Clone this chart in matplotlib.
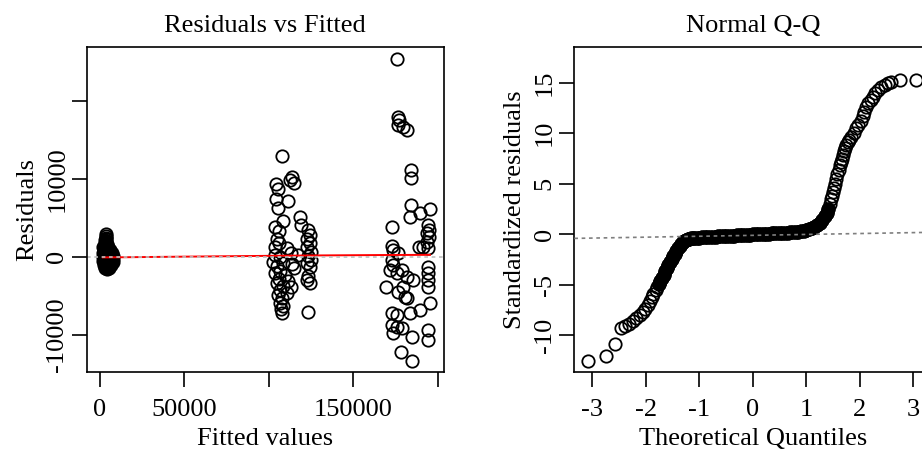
"""
plot.py
=======
Two-panel lm diagnostic figure (Residuals vs Fitted, Normal Q-Q),
redrawn in matplotlib in the look of base R graphics.
"""

import matplotlib
matplotlib.use("Agg")
import matplotlib.pyplot as plt
import numpy as np

# ── Residuals vs Fitted: the dense low-fitted group (overprinted -> solid) ──
BLOB_FIT = [2000, 3000, 4000, 5000, 6000, 7000, 7800, 8000, 7500, 6800,
            5500, 4300, 3200, 2300, 1800, 1700, 1800, 2200, 3500, 4500,
            5500, 3000, 4500, 6000, 2500, 3800, 5200, 6500, 3200, 3800]
BLOB_RES = [1300, 1800, 1600, 1200, 800, 500, 100, -300, -700, -1100,
            -1500, -1600, -1400, -1000, -500, 0, 500, 900, 600, 200,
            -200, -300, -900, -600, 200, 1100, 500, 100, 2100, 1900]

# ── Residuals vs Fitted: all other observations (open circles) ─────────────
FITTED = [3500, 3600, 3400, 3700,
          108000, 113900, 115100, 112600, 104100, 105600, 104100, 111200,
          105300, 108600, 103700, 106000, 104700, 106000, 103700, 110600,
          113100, 103700, 106600, 102700, 108600, 104700, 113500, 115100,
          106600, 103700, 109600, 106000, 111600, 104700, 108600, 113100,
          106600, 110600, 105600, 108000, 106600, 108600, 107200, 108000,
          118500, 119400, 123400, 124400, 122400, 124400, 122400, 125000,
          123000, 125000, 122400, 124400, 123400, 122400, 124400, 123400,
          117500,
          175700, 176700, 177300, 176700, 179700, 181700, 184000, 184200,
          184000, 189600, 195500, 183600, 172800, 194500, 195000, 193800,
          195000, 193800, 194500, 189200, 172800, 173900, 176700, 172800,
          173900, 171800, 175700, 178700, 181700, 185600, 194500, 194500,
          194500, 194500, 169400, 176700, 180700, 182000, 195500, 189600,
          172800, 175700, 183600, 172800, 175700, 178700, 173900, 184600,
          194500, 194500, 178500, 184600, 179700, 191600]
RESID = [2850, 2650, 2450, 2250,
         12900, 10180, 9410, 9830, 9320, 8640, 7360, 7100,
         6200, 4580, 3770, 3330, 2230, 1720, 1200, 1080,
         510, 220, -80, -640, -770, -1190, -940, -1490,
         -1790, -2130, -2350, -2900, -3080, -3410, -3760, -3920,
         -4270, -4620, -4910, -5330, -5900, -6320, -6740, -7180,
         5130, 4060, 3420, 2780, 2230, 1720, 1200, 640,
         90, -420, -850, -1280, -2470, -2990, -3410, -7050,
         220,
         25340, 17950, 17520, 16880, 16670, 16240, 11100, 10100,
         6620, 5560, 6070, 5050, 3770, 4060, 3420, 3000,
         2570, 1920, 1070, 1200, 1370, 860, 430, -420,
         -1060, -1700, -2140, -1700, -2560, -2990, -1280, -2130,
         -2990, -3850, -3920, -4490, -5130, -5330, -5900, -6830,
         -7260, -7470, -7260, -8760, -8970, -9190, -9820, -10260,
         -9400, -10680, -12180, -13330, -3850, 1290]

# lowess smoother (red)
SMOOTH_FIT = [1700, 8000, 104000, 125000, 170000, 195500]
SMOOTH_RES = [-90, -80, 120, 160, 220, 240]

# ── Normal Q-Q: theoretical quantile / standardized residual pairs ─────────
QQ_Q = [-3.09, -2.75, -2.57, -2.46, -2.39, -2.31, -2.25, -2.19, -2.12, -2.06,
        -2.01, -1.97, -1.93, -1.89, -1.86, -1.82, -1.79, -1.76, -1.73, -1.70,
        -1.67, -1.64, -1.61, -1.58, -1.55, -1.52, -1.49, -1.46, -1.43, -1.40,
        -1.37, -1.34, -1.31, -1.28, -1.25, -1.22, -1.19, -1.16, -1.13, -1.10,
        -1.05, -1.00, -0.95, -0.90, -0.85, -0.80, -0.75, -0.70, -0.65, -0.60,
        -0.55, -0.50, -0.45, -0.40, -0.35, -0.30, -0.25, -0.20, -0.15, -0.10,
        -0.05, 0.00, 0.05, 0.10, 0.15, 0.20, 0.25, 0.30, 0.35, 0.40,
        0.45, 0.50, 0.55, 0.60, 0.65, 0.70, 0.75, 0.80, 0.85, 0.90,
        0.95, 1.00, 1.05, 1.10, 1.15, 1.20, 1.25, 1.30, 1.35, 1.38,
        1.41, 1.44, 1.46, 1.48, 1.50, 1.52, 1.54, 1.56, 1.58, 1.60,
        1.62, 1.64, 1.66, 1.68, 1.70, 1.72, 1.74, 1.77, 1.80, 1.84,
        1.88, 1.93, 1.97, 2.02, 2.05, 2.08, 2.12, 2.15, 2.20, 2.24,
        2.29, 2.33, 2.40, 2.46, 2.52, 2.58, 2.75, 3.05]
QQ_R = [-12.5, -12.0, -10.8, -9.3, -9.1, -8.9, -8.6, -8.3, -8.0, -7.7,
        -7.4, -7.0, -6.6, -6.2, -5.9, -5.5, -5.2, -4.9, -4.6, -4.3,
        -4.0, -3.6, -3.3, -3.0, -2.7, -2.4, -2.1, -1.9, -1.6, -1.4,
        -1.15, -0.95, -0.8, -0.65, -0.55, -0.48, -0.43, -0.40, -0.38, -0.36,
        -0.34, -0.32, -0.30, -0.28, -0.27, -0.25, -0.24, -0.22, -0.21, -0.19,
        -0.18, -0.16, -0.15, -0.13, -0.12, -0.10, -0.09, -0.07, -0.06, -0.04,
        -0.03, -0.01, 0.00, 0.02, 0.03, 0.05, 0.06, 0.08, 0.09, 0.11,
        0.12, 0.14, 0.15, 0.17, 0.18, 0.20, 0.22, 0.24, 0.26, 0.29,
        0.33, 0.40, 0.48, 0.60, 0.74, 0.90, 1.15, 1.45, 1.85, 2.1,
        2.5, 3.0, 3.5, 3.8, 4.2, 4.55, 5.0, 5.5, 5.95, 6.4,
        6.85, 7.2, 7.5, 7.85, 8.2, 8.5, 8.8, 9.1, 9.35, 9.65,
        10.0, 10.5, 10.8, 11.2, 11.7, 12.1, 12.6, 13.0, 13.3, 13.6,
        14.0, 14.3, 14.6, 14.8, 15.0, 15.1, 15.25, 15.25]
QQ_LINE = (-0.1, 0.09)          # qqline intercept, slope

# ── Look ────────────────────────────────────────────────────────────────────
BLACK = "#000000"
RED = "#ff0000"
GREY = "#bebebe"
GREY50 = "#7f7f7f"
LW = 1.2
MS = 8.9

plt.rcParams.update({
    "font.family": "Liberation Serif",
    "font.size": 19,
    "axes.linewidth": LW,
    "axes.edgecolor": BLACK,
    "xtick.major.size": 11,
    "ytick.major.size": 11,
    "xtick.major.width": LW,
    "ytick.major.width": LW,
    "xtick.major.pad": 8.5,
    "ytick.major.pad": 2.3,
})

fig = plt.figure(figsize=(9.22, 4.5), dpi=100)
ax1 = fig.add_axes([0.0940, 0.1733, 0.3875, 0.7222])
ax2 = fig.add_axes([0.6229, 0.1733, 0.3875, 0.7222])

circle = dict(linestyle="none", marker="o", markersize=MS,
              markeredgewidth=1.3, markeredgecolor=BLACK)

# ═══ Residuals vs Fitted ═══════════════════════════════════════════════════
ax1.plot(BLOB_FIT, BLOB_RES, markerfacecolor=BLACK, **circle)
ax1.plot(FITTED, RESID, markerfacecolor="none", **circle)
ax1.plot(SMOOTH_FIT, SMOOTH_RES, color=RED, lw=1.4)
ax1.axhline(0, color=GREY, lw=1.2, dashes=(2.2, 2.2))

ax1.set_xlim(-7880, 203800)
ax1.set_ylim(-14780, 26880)
ax1.set_xticks([0, 50000, 100000, 150000, 200000],
               ["0", "50000", "", "150000", ""])
ax1.set_yticks([-10000, 0, 10000, 20000], ["-10000", "0", "10000", ""])
ax1.set_title("Residuals vs Fitted", fontsize=19, pad=11)
ax1.set_xlabel("Fitted values")
ax1.set_ylabel("Residuals")

# ═══ Normal Q-Q ════════════════════════════════════════════════════════════
qq_q = np.array(QQ_Q)
qq_r = np.array(QQ_R)
dense = (qq_q >= -1.78) & (qq_q <= 1.42)
ax2.plot(qq_q, qq_r, markerfacecolor="none", **circle)
ax2.plot(qq_q[dense], qq_r[dense], markerfacecolor=BLACK, **circle)
ax2.axline((0, QQ_LINE[0]), slope=QQ_LINE[1], color=GREY50, lw=1.2,
           dashes=(2.2, 2.2), zorder=5)

ax2.set_xlim(-3.34, 3.34)
ax2.set_ylim(-13.62, 18.53)
ax2.set_xticks([-3, -2, -1, 0, 1, 2, 3], ["-3", "-2", "-1", "0", "1", "2", "3"])
ax2.set_yticks([-10, -5, 0, 5, 10, 15], ["-10", "-5", "0", "5", "10", "15"])
ax2.set_title("Normal Q-Q", fontsize=19, pad=11)
ax2.set_xlabel("Theoretical Quantiles")
ax2.set_ylabel("Standardized residuals")

for ax in (ax1, ax2):
    for lbl in ax.get_yticklabels():
        lbl.set_rotation(90)
        lbl.set_va("center")
    ax.xaxis.set_label_coords(0.5, -0.172)
    ax.yaxis.set_label_coords(-0.135, 0.5)

fig.savefig("out.png", dpi=100, facecolor="white")
